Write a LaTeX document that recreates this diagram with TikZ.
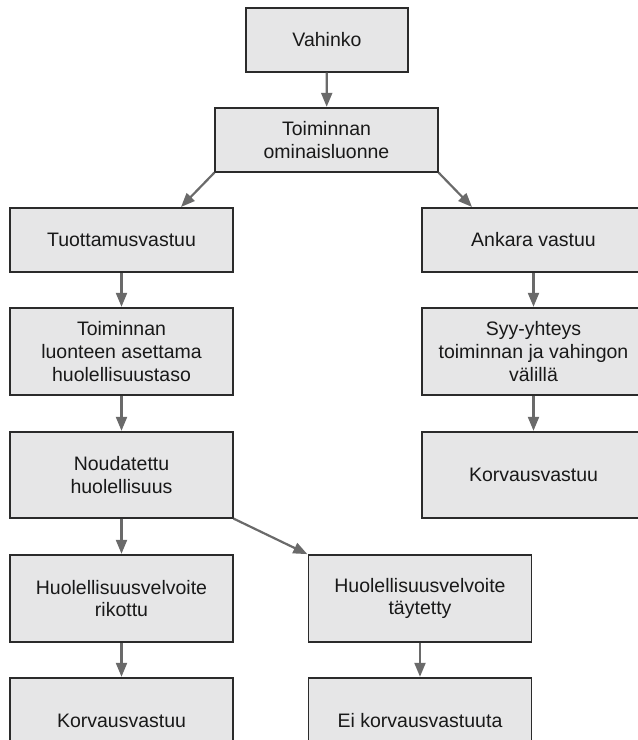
\documentclass[tikz,border=0pt]{standalone}
\usepackage{fontspec}
\setmainfont{Liberation Sans}
\usetikzlibrary{arrows.meta}
\definecolor{boxfill}{HTML}{E6E6E7}
\definecolor{boxline}{HTML}{2B2B2B}
\definecolor{arrowgray}{HTML}{6A6A6A}

\begin{document}
\begin{tikzpicture}[x=1pt, y=-1pt, >={Triangle[width=11pt,length=14pt]},
	font=\fontsize{19.5}{22.7}\selectfont,
	box/.style={draw=boxline, line width=1.2pt, fill=boxfill, align=center,
		inner sep=0pt, minimum width=223pt, text=black!90},
	flow/.style={->, draw=arrowgray, line width=2.2pt, shorten >=0.6pt}]

\useasboundingbox (0,0) rectangle (638,740);
\clip (0,0) rectangle (638,740);

% ================= Top =================
\node[box, minimum width=162pt, minimum height=64pt] (vahinko) at (327,40) {Vahinko};
\node[box, minimum height=64pt] (luonne) at (326.5,140) {Toiminnan\\ominaisluonne};

% ================= Left: tuottamusvastuu =================
\node[box, minimum height=64pt] (tuottamus) at (121.5,240) {Tuottamusvastuu};
\node[box, minimum height=87pt] (taso) at (121.5,351.5)
	{Toiminnan\\luonteen asettama\\huolellisuustaso};
\node[box, minimum height=86pt] (noudatettu) at (121.5,475) {Noudatettu\\huolellisuus};
\node[box, minimum height=87pt] (rikottu) at (121.5,598.5) {Huolellisuusvelvoite\\rikottu};
\node[box, minimum height=86pt] (korvaus1) at (121.5,721) {Korvausvastuu};

% middle branch
\node[box, minimum height=87pt] (taytetty) at (420,598.5) {Huolellisuusvelvoite\\täytetty};
\node[box, minimum height=86pt] (eikorvaus) at (420,721) {Ei korvausvastuuta};

% ================= Right: ankara vastuu =================
\node[box, minimum height=64pt] (ankara) at (533.5,240) {Ankara vastuu};
\node[box, minimum height=87pt] (syy) at (533.5,351.5)
	{Syy-yhteys\\toiminnan ja vahingon\\välillä};
\node[box, minimum height=86pt] (korvaus2) at (533.5,475) {Korvausvastuu};

% arrows
\draw[flow] (vahinko) -- (luonne);
\draw[flow] (luonne.south west) -- ([xshift=-53pt]tuottamus.north east);
\draw[flow] (luonne.south east) -- ([xshift=51pt]ankara.north west);
\draw[flow] (tuottamus) -- (taso);
\draw[flow] (taso) -- (noudatettu);
\draw[flow] (noudatettu) -- (rikottu);
\draw[flow] (noudatettu.south east) -- (taytetty.north west);
\draw[flow] (rikottu) -- (korvaus1);
\draw[flow] (taytetty) -- (eikorvaus);
\draw[flow] (ankara) -- (syy);
\draw[flow] (syy) -- (korvaus2);

\end{tikzpicture}
\end{document}
